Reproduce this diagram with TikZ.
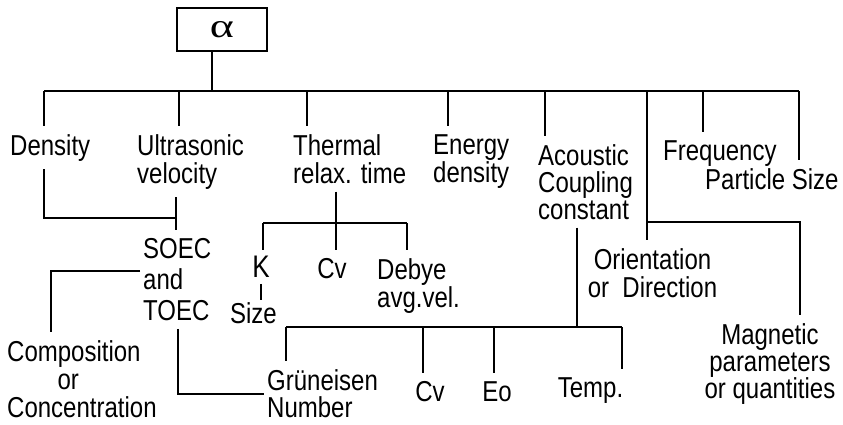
\documentclass[tikz,border=0pt]{standalone}
\usepackage{fontspec}
\setmainfont{Liberation Sans}
\newfontfamily\greekfont{Liberation Serif}

\begin{document}
\begin{tikzpicture}[
    x=1pt, y=-1pt,
    lbl/.style={font=\fontsize{24}{23.3}\selectfont, yscale=1.2, inner xsep=3pt, inner ysep=6.7pt, align=left, anchor=north west},
    lblc/.style={lbl, align=center, anchor=north},
    tight/.style={font=\fontsize{24}{20.5}\selectfont},
    root/.style={draw, line width=1.3pt, minimum width=90pt, minimum height=43pt, inner sep=0pt},
    wire/.style={line width=1.3pt},
]
\useasboundingbox (0,0) rectangle (843,425);

\node[root] (alpha) at (222,29.5) {\greekfont\fontsize{34}{34}\selectfont\scalebox{1.35}[1]{α}};

% first level
\node[lbl] (dens) at (7,126) {Density};
\node[lbl] (ultra) at (134,126) {Ultrasonic\\velocity};
\node[lbl] (therm) at (290,126) {Thermal\\relax. time};
\node[lbl] (energy) at (430,126) {Energy\\density};
\node[lbl, font=\fontsize{24}{22.5}\selectfont] (acou) at (535,136) {Acoustic\\Coupling\\constant};
\node[lbl] (freq) at (660,132) {Frequency};
\node[lbl] (part) at (702,160) {Particle Size};
\node[lblc] (orient) at (652.5,240) {Orientation\\or\ \ Direction};
\node[lblc, font=\fontsize{24}{22.5}\selectfont] (magn) at (770,315) {Magnetic\\parameters\\or quantities};

% second level
\node[lbl, font=\fontsize{24}{25.8}\selectfont] (soec) at (140,230) {SOEC\\and\\TOEC};
\node[lblc, font=\fontsize{26}{26}\selectfont, inner ysep=5pt] (k) at (261,250) {K};
\node[lblc, inner ysep=1.7pt] (size) at (253.5,300) {Size};
\node[lblc] (cvA) at (332,250) {Cv};
\node[lbl, tight] (debye) at (374,250) {Debye\\avg.vel.};
\node[lbl] (comp) at (4,332) {Composition\\\hspace*{2.1em}or\\Concentration};
\node[lbl, font=\fontsize{24}{22.5}\selectfont] (grun) at (264,361) {Grüneisen\\Number};
\node[lblc] (cvB) at (430,373) {Cv};
\node[lblc] (eo) at (497,373) {Eo};
\node[lblc] (temp) at (590.5,369) {Temp.};

% main bus
\coordinate (top) at (212,91);
\foreach \x/\n in {44/dens, 179/ultra, 307/therm, 448/energy, 545/acou, 647/orient, 703/freq, 799/part}
    \coordinate (d-\n) at (\x,91);
\draw[wire] (top |- alpha.south) -- (top);
\draw[wire] (d-dens) -- (d-part);
\foreach \n in {dens, ultra, therm, energy, acou, orient, freq, part}
    \draw[wire] (d-\n) -- (d-\n |- \n.north);

% density and ultrasonic meet over SOEC
\coordinate (dj) at (176,218);
\draw[wire] (d-dens |- dens.south) -- (d-dens |- dj) -- (dj);
\draw[wire] (dj |- ultra.south) -- (dj |- soec.north);

% SOEC branches
\coordinate (sc) at (51,271);
\draw[wire] (soec.west |- sc) -- (sc) -- (sc |- comp.north);
\coordinate (sg) at (178,394);
\draw[wire] (sg |- soec.south) -- (sg) -- (grun.west |- sg);

% thermal relaxation subtree
\coordinate (tb) at (336,223);
\coordinate (tbL) at (263,223);
\coordinate (tbR) at (407,223);
\draw[wire] (tb |- therm.south) -- (tb);
\draw[wire] (tbL) -- (tbR);
\draw[wire] (tbL) -- (tbL |- k.north);
\draw[wire] (tb) -- (tb |- cvA.north);
\draw[wire] (tbR) -- (tbR |- debye.north);
\draw[wire] (k.south) -- (k.south |- size.north);

% acoustic coupling subtree
\coordinate (ab) at (577,327);
\coordinate (abL) at (286,327);
\coordinate (abR) at (622,327);
\coordinate (ac) at (423,327);
\coordinate (ae) at (494,327);
\draw[wire] (ab |- acou.south) -- (ab);
\draw[wire] (abL) -- (abR);
\draw[wire] (abL) -- (abL |- grun.north);
\draw[wire] (ac) -- (ac |- cvB.north);
\draw[wire] (ae) -- (ae |- eo.north);
\draw[wire] (abR) -- (abR |- temp.north);

% orientation branch to magnetic
\coordinate (mj) at (647,222);
\coordinate (mr) at (800,222);
\draw[wire] (mj) -- (mr) -- (mr |- magn.north);

\end{tikzpicture}
\end{document}
